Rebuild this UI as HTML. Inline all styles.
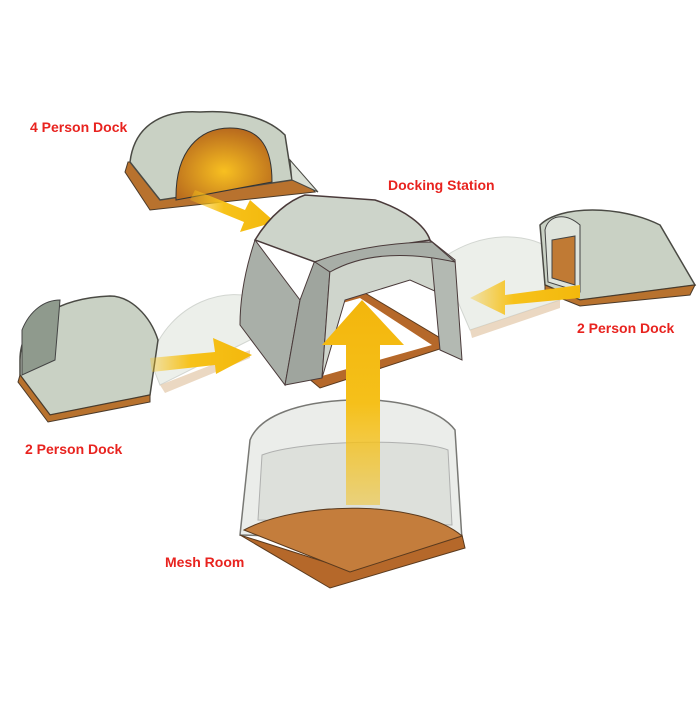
<!DOCTYPE html>
<html><head><style>
body{margin:0;background:#fff;width:700px;height:700px;overflow:hidden}
text{font-family:"Liberation Sans",sans-serif;font-weight:bold;fill:#e8231f;font-size:14px}
</style></head><body>
<svg width="700" height="700" viewBox="0 0 700 700" xmlns="http://www.w3.org/2000/svg">
<defs>
<linearGradient id="yl" x1="0" y1="0" x2="1" y2="0"><stop offset="0" stop-color="#f7c21a" stop-opacity="0.3"/><stop offset="0.4" stop-color="#f7c21a"/><stop offset="1" stop-color="#f3b80c"/></linearGradient>
<linearGradient id="yu" x1="0" y1="1" x2="0" y2="0"><stop offset="0" stop-color="#f5c21c" stop-opacity="0.5"/><stop offset="0.5" stop-color="#f5c01a"/><stop offset="1" stop-color="#f3b60c"/></linearGradient>
<radialGradient id="inner" cx="0.5" cy="0.6" r="0.6"><stop offset="0" stop-color="#f8c020"/><stop offset="1" stop-color="#b86a1e"/></radialGradient>
</defs>

<path d="M150,360 C170,300 230,285 260,300 L250,340 L160,385 Z" fill="#e8ece6" stroke="#c8ccc6" opacity="0.8"/>
<path d="M440,260 C480,230 530,230 560,255 L560,300 L470,330 Z" fill="#e8ece6" stroke="#c8ccc6" opacity="0.8"/>
<path d="M160,385 L250,350 L250,358 L165,393 Z" fill="#e2c8a8" opacity="0.7"/>
<path d="M470,330 L560,300 L560,308 L472,338 Z" fill="#e2c8a8" opacity="0.7"/>

<path d="M128,162 L125,172 L150,210 L315,192 L290,160 Z" fill="#b8722e" stroke="#4a3a2a"/>
<path d="M130,162 C135,120 170,110 200,112 C230,110 265,115 285,135 L292,180 L160,200 Z" fill="#c9d1c4" stroke="#4a4a44" stroke-width="1.5"/>
<path d="M176,200 C175,150 200,128 230,128 C262,128 272,150 272,182 Z" fill="url(#inner)" stroke="#333"/>
<path d="M292,180 L318,192 L290,160 Z" fill="#d9dfd5" stroke="#4a4a44"/>

<path d="M195,190 L245,210 L250,200 L275,222 L240,232 L244,222 L190,200 Z" fill="url(#yl)"/>

<path d="M540,225 C560,205 620,205 660,225 L695,285 L580,300 L545,285 Z" fill="#c9d1c4" stroke="#4a4a44" stroke-width="1.5"/>
<path d="M545,230 C548,215 565,212 580,225 L580,292 L548,282 Z" fill="#dfe4dc" stroke="#444"/>
<path d="M552,240 L575,236 L575,285 L552,278 Z" fill="#c07a34" stroke="#444"/>
<path d="M545,285 L580,300 L695,285 L690,295 L580,306 L545,292 Z" fill="#b8722e" stroke="#4a3a2a"/>
<path d="M580,285 L505,295 L505,280 L470,298 L505,315 L505,305 L580,298 Z" fill="url(#yl)"/>

<path d="M20,360 C20,320 60,298 110,296 C130,296 150,315 158,340 L150,395 L50,415 L20,375 Z" fill="#c9d1c4" stroke="#4a4a44" stroke-width="1.5"/>
<path d="M22,330 C30,310 45,300 60,300 L55,360 L22,375 Z" fill="#8f9a8d" stroke="#444"/>
<path d="M20,375 L50,415 L150,395 L150,402 L48,422 L18,382 Z" fill="#b8722e" stroke="#4a3a2a"/>
<path d="M150,358 L215,352 L213,338 L252,355 L216,374 L215,365 L152,372 Z" fill="url(#yl)"/>

<path d="M245,325 L360,290 L452,345 L320,388 Z" fill="#b5682a" stroke="#5a3a1e"/>
<path d="M262,326 L360,298 L432,345 L322,376 Z" fill="#fff"/>
<path d="M255,240 C245,270 240,300 240,325 L285,385 L300,300 Z" fill="#a9afa8" stroke="#4a3a3a"/>
<path d="M315,260 L300,300 L285,385 L322,378 L330,270 Z" fill="#9fa59e" stroke="#4a3a3a"/>
<path d="M330,270 C340,255 400,245 455,260 L455,300 L410,280 L345,300 L322,378 Z" fill="#cfd5cc" stroke="#4a3a3a"/>
<path d="M430,240 L455,260 L462,360 L440,350 Z" fill="#b3b9b2" stroke="#4a3a3a"/>
<path d="M255,240 C270,215 290,200 305,195 L375,200 C405,210 425,225 430,240 C400,245 350,250 315,262 Z" fill="#cdd4ca" stroke="#4a3a3a" stroke-width="1.5"/>
<path d="M315,262 C350,248 400,242 432,242 L455,262 C400,250 360,255 330,272 Z" fill="#a8aea7" stroke="#4a3a3a"/>

<path d="M240,535 L250,440 C260,415 300,402 350,400 C400,398 440,410 455,430 L462,540 Z" fill="#e9ece8" stroke="#6a6a66" stroke-width="1.5" opacity="0.9"/>
<path d="M258,520 L262,455 C300,440 420,438 448,450 L452,525 Z" fill="#d4d8d2" stroke="#888" opacity="0.6"/>
<path d="M240,535 L330,588 L465,548 L462,535 L350,570 Z" fill="#b5682a" stroke="#5a3a1e"/>
<path d="M244,530 C300,500 420,500 462,536 L350,572 Z" fill="#c47d3c" stroke="#5a3a1e"/>

<path d="M346,505 L346,345 L322,345 L362,300 L404,345 L380,345 L380,505 Z" fill="url(#yu)"/>

<text x="30" y="132">4 Person Dock</text>
<text x="388" y="190">Docking Station</text>
<text x="577" y="333">2 Person Dock</text>
<text x="25" y="454">2 Person Dock</text>
<text x="165" y="567">Mesh Room</text>
</svg>
</body></html>
